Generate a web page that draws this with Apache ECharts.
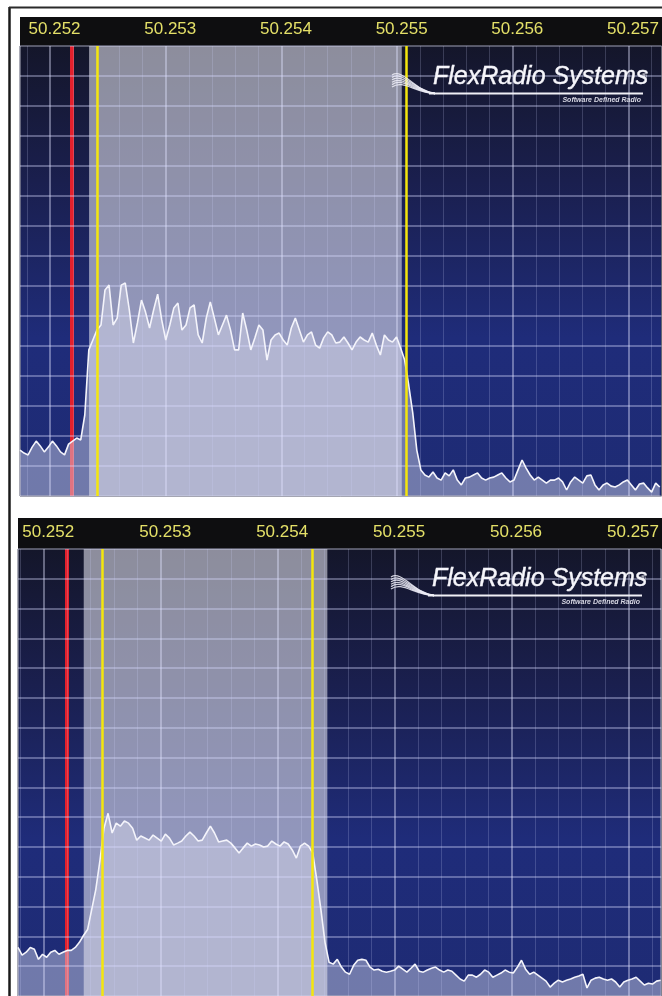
<!DOCTYPE html>
<html>
<head>
<meta charset="utf-8">
<script src="https://cdn.jsdelivr.net/npm/echarts@6/dist/echarts.min.js"></script>
<style>
html, body { margin: 0; padding: 0; background: #fff; }
#chart { width: 662px; height: 996px; }
</style>
</head>
<body>
<div id="chart"></div>
<script>
// upper display, 35 Hz bins from 50.251740 MHz, level in dB
const topStartHz = 50251740;
const topBinHz = 35;
const topLevels = [
  -134.7, -135.7, -136.3, -133.7, -131.7, -133.3, -135.3, -133.7, -131.7, -133.3,
  -135.3, -136.3, -132.7, -131.7, -130.7, -131.3, -123, -101.3, -98, -94.7,
  -93, -81.3, -79.7, -93, -90.7, -79.7, -79, -88, -99, -92.3,
  -84.7, -88.7, -94, -88, -82.7, -91.3, -98, -93, -87.3, -85.7,
  -94.7, -93, -87.3, -86.3, -96.3, -99, -90.7, -85.3, -90.7, -96.3,
  -93, -89.7, -94.7, -101.3, -101.3, -89, -94.7, -101.3, -97.3, -93,
  -94.7, -104.7, -98, -96.3, -95.7, -98, -99.7, -94, -90.7, -94.7,
  -98.7, -96.3, -95.3, -99.7, -100.7, -97.3, -95.3, -96.3, -99, -98.7,
  -97, -99, -101.3, -98.7, -97, -98, -98.7, -95.7, -99.7, -103,
  -96.3, -98, -98.7, -97, -100.7, -104.7, -113, -122.3, -134.7, -141.3,
  -143, -143.7, -142, -144, -144.7, -142.3, -143.3, -141.3, -144.7, -146.3,
  -144, -143.7, -143, -142.3, -144, -144.7, -144, -143.7, -143, -142.3,
  -144, -145.3, -144.7, -141.3, -138, -140.7, -143, -144.7, -143.7, -144.7,
  -145.7, -144.7, -144.7, -144, -145.3, -148, -145.3, -143.7, -144.7, -145.7,
  -143.3, -143, -146.3, -148, -146.3, -145.7, -146.7, -147, -146.3, -145.3,
  -144.7, -146.3, -148, -146, -145.7, -147.3, -148.7, -145.7, -147
];
const topCarrier = 50252190;
const topPassband = [50252337, 50255040];
const topFilterEdges = [50252406, 50255083];

// lower display, 35 Hz bins from 50.251780 MHz
const botStartHz = 50251780;
const botBinHz = 35;
const botLevels = [
  -133.7, -136.3, -135.3, -133.7, -134.3, -137.7, -136, -137, -135.3, -134.7,
  -136, -135.3, -134.7, -134.7, -133.7, -132, -129.7, -127.7, -121, -114.3,
  -104.7, -93.7, -88.7, -95.3, -92, -93, -91.3, -92, -93.7, -97.7,
  -96.3, -97, -97.7, -96, -97, -98, -95.7, -97, -99.3, -98.7,
  -98, -96.3, -95, -96.3, -98, -97.7, -95.3, -93, -95.3, -98.3,
  -98, -97.7, -98.7, -100.3, -102, -100.3, -98.7, -99.7, -99, -99.3,
  -100, -99.7, -98, -99, -99.7, -98.3, -99, -101, -103.7, -99.7,
  -98.7, -99.7, -102, -111, -121, -132, -138.7, -139.3, -137.7, -140.3,
  -142, -142.7, -139.7, -138, -137.7, -138, -140.3, -141.3, -141, -141.7,
  -142, -141.7, -141.3, -140, -141, -142, -140.7, -139.3, -141.7, -142,
  -141.3, -140.7, -140.3, -141.3, -142, -141.3, -141.7, -143, -144.3, -145,
  -143, -143, -143.7, -142.7, -141.3, -142, -143.7, -143, -142.3, -141.3,
  -142, -142.3, -140.3, -138, -141, -142.7, -142, -143, -144, -145,
  -147, -145.7, -144.7, -145.3, -144.7, -144.3, -143.7, -143.3, -142.7, -147.3,
  -144.7, -144, -143.7, -144.3, -144.7, -144.3, -145.3, -147, -145.3, -144.7,
  -144.3, -143.7, -145, -146.3, -145.7, -146, -145, -144.7
];
const botCarrier = 50252196;
const botPassband = [50252342, 50254425];
const botFilterEdges = [50252504, 50254298];

const spanHz = [[50251740, 50257285], [50251780, 50257280]];
const levelRange = [-150, 0];

function toPoints(start, bin, levels) {
  return levels.map((v, i) => [start + i * bin, v]);
}

const chart = echarts.init(document.getElementById('chart'));

const bg = new echarts.graphic.LinearGradient(0, 0, 0, 1, [
  { offset: 0, color: '#14162a' },
  { offset: 0.3, color: '#1a1f4e' },
  { offset: 0.65, color: '#1f2c7a' },
  { offset: 1, color: '#1e2b74' }
]);

function xAxisFor(i) {
  return {
    type: 'value',
    gridIndex: i,
    position: 'top',
    min: spanHz[i][0],
    max: spanHz[i][1],
    splitNumber: 5,
    z: 3.5,
    axisLine: { show: false },
    axisTick: { show: false },
    axisLabel: {
      color: '#e4e068',
      fontSize: 17,
      fontFamily: 'Liberation Sans',
      margin: 8,
      padding: [0, 0, 0, 9],
      showMinLabel: false,
      showMaxLabel: false,
      formatter: v => (v / 1e6).toFixed(3)
    },
    splitLine: { show: true, lineStyle: { color: 'rgba(225,228,255,0.4)', width: 2 } },
    minorTick: { show: false, splitNumber: 5 },
    minorSplitLine: { show: true, lineStyle: { color: 'rgba(210,215,255,0.2)', width: 1 } }
  };
}

function yAxisFor(i) {
  return {
    type: 'value',
    gridIndex: i,
    min: levelRange[0],
    max: levelRange[1],
    interval: 10,
    z: 3.5,
    axisLine: { show: false },
    axisTick: { show: false },
    axisLabel: { show: false },
    splitLine: { show: true, lineStyle: { color: 'rgba(215,218,255,0.36)', width: 2 } }
  };
}

function panelSeries(i, start, bin, levels, carrier, passband, edges) {
  const pts = toPoints(start, bin, levels);
  return [
    {
      // carrier marker sits under the trace fill
      type: 'line', xAxisIndex: i, yAxisIndex: i, data: [], z: 1, silent: true,
      markLine: {
        z: 1.5, silent: true, symbol: 'none', label: { show: false },
        lineStyle: { color: '#e3202c', width: 4, type: 'solid' },
        data: [{ xAxis: carrier }]
      }
    },
    {
      type: 'line', xAxisIndex: i, yAxisIndex: i, z: 2, silent: true,
      data: pts,
      showSymbol: false,
      lineStyle: { width: 0, opacity: 0 },
      areaStyle: { color: 'rgba(220,222,242,0.62)', origin: 'start' }
    },
    {
      type: 'line', xAxisIndex: i, yAxisIndex: i, data: [], z: 3, silent: true,
      markArea: {
        z: 3, silent: true,
        itemStyle: { color: 'rgba(222,222,234,0.6)' },
        data: [[{ xAxis: passband[0] }, { xAxis: passband[1] }]]
      }
    },
    {
      type: 'line', xAxisIndex: i, yAxisIndex: i, z: 4, silent: true,
      data: pts,
      showSymbol: false,
      lineStyle: { color: '#f4f4fb', width: 1.6 }
    },
    {
      type: 'line', xAxisIndex: i, yAxisIndex: i, data: [], z: 5, silent: true,
      markLine: {
        z: 5, silent: true, symbol: 'none', label: { show: false },
        lineStyle: { color: '#f4e60c', width: 2.5, type: 'solid' },
        data: edges.map(v => ({ xAxis: v }))
      }
    }
  ];
}

function logo(x, y) {
  const swoosh = [];
  for (let k = 0; k < 6; k++) {
    swoosh.push({
      type: 'bezierCurve',
      z: 10,
      shape: {
        x1: x - 41, y1: y - 15 + k * 2.4,
        cpx1: x - 30, cpy1: y - 22 + k * 2.2,
        cpx2: x - 18, cpy2: y + 1 + k * 0.4,
        x2: x + 2, y2: y + 3.5
      },
      style: { stroke: 'rgba(238,238,248,0.85)', lineWidth: 1.3, fill: null }
    });
  }
  return swoosh.concat([
    {
      type: 'line', z: 10,
      shape: { x1: x - 4, y1: y + 3.5, x2: x + 210, y2: y + 3.5 },
      style: { stroke: '#f0f0f6', lineWidth: 2 }
    },
    {
      type: 'text', z: 10, x: x, y: y,
      style: {
        text: 'FlexRadio Systems',
        fill: '#f6f6fb',
        font: 'italic 25px "Liberation Sans"',
        textVerticalAlign: 'bottom',
        textBaseline: 'alphabetic',
        stroke: '#f6f6fb', lineWidth: 0.4,
        shadowColor: 'rgba(0,0,0,0.7)', shadowBlur: 2, shadowOffsetX: 1, shadowOffsetY: 1
      }
    },
    {
      type: 'text', z: 10, x: x + 208, y: y - 17,
      style: { text: '®', fill: '#f0f0f6', font: 'bold 8px "Liberation Sans"' }
    },
    {
      type: 'text', z: 10, x: x + 208, y: y + 7,
      style: {
        text: 'Software Defined Radio',
        fill: '#d8d8e4',
        font: 'italic bold 7px "Liberation Sans"',
        textAlign: 'right'
      }
    }
  ]);
}

chart.setOption({
  animation: false,
  backgroundColor: '#ffffff',
  grid: [
    { left: 20, top: 46, width: 642, height: 450, show: true, backgroundColor: bg, borderColor: '#111', borderWidth: 1 },
    { left: 18, top: 549, width: 644, height: 450, show: true, backgroundColor: bg, borderColor: '#111', borderWidth: 1 }
  ],
  xAxis: [xAxisFor(0), xAxisFor(1)],
  yAxis: [yAxisFor(0), yAxisFor(1)],
  graphic: [
    { type: 'rect', z: 0, shape: { x: 20, y: 17, width: 642, height: 29 }, style: { fill: '#0e0e10' } },
    { type: 'rect', z: 0, shape: { x: 18, y: 518, width: 644, height: 31 }, style: { fill: '#0e0e10' } },
    { type: 'line', z: 0, shape: { x1: 9.5, y1: 7, x2: 9.5, y2: 996 }, style: { stroke: '#1a1a1a', lineWidth: 2.5 } },
    { type: 'line', z: 0, shape: { x1: 9, y1: 7.5, x2: 662, y2: 7.5 }, style: { stroke: '#2a2a2a', lineWidth: 2 } }
  ].concat(logo(433, 90), logo(432, 592)),
  series: panelSeries(0, topStartHz, topBinHz, topLevels, topCarrier, topPassband, topFilterEdges)
    .concat(panelSeries(1, botStartHz, botBinHz, botLevels, botCarrier, botPassband, botFilterEdges))
});
</script>
</body>
</html>
